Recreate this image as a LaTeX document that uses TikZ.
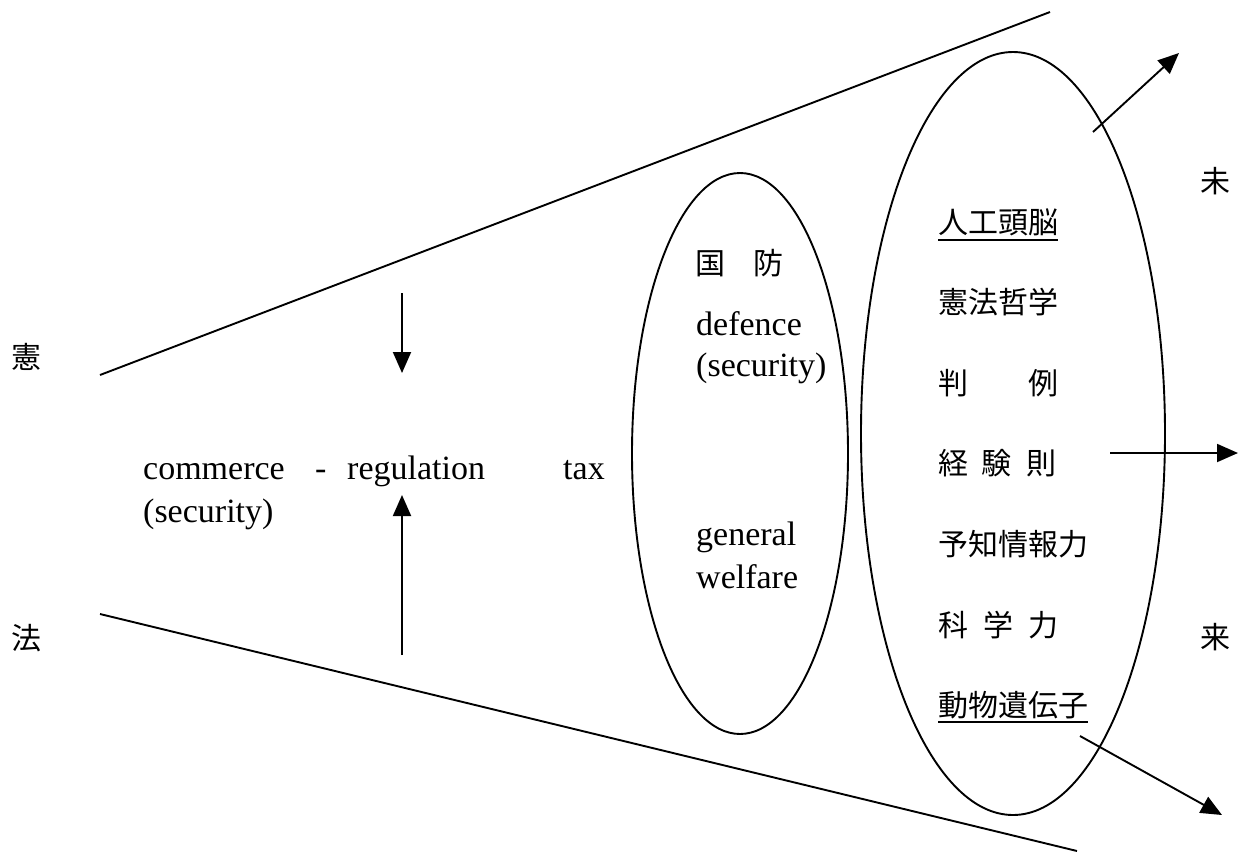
\documentclass[tikz,border=0pt]{standalone}
\usepackage{fontspec}
\setmainfont{Liberation Serif}
\newfontfamily\jpfont{Noto Sans CJK JP}
\usetikzlibrary{arrows.meta}
\begin{document}
\begin{tikzpicture}[x=1pt,y=-1pt,
  thinline/.style={line width=1.9pt},
  arr/.style={line width=1.9pt,-{Triangle[length=21pt,width=18pt]}},
  en/.style={font=\fontsize{34}{40}\selectfont, inner sep=0pt, anchor=base west},
  jpw/.style={font=\fontsize{30}{36}\selectfont\jpfont, inner sep=0pt, anchor=west},
  jpc/.style={font=\fontsize{30}{36}\selectfont\jpfont, inner sep=0pt, anchor=center},
  uline/.style={line width=2.2pt}]
\useasboundingbox (0,0) rectangle (1251,852);
\fill[white] (0,0) rectangle (1251,852);
% funnel lines
\coordinate (t1) at (100,375); \coordinate (t2) at (1050,12);
\coordinate (b1) at (100,614); \coordinate (b2) at (1077,851);
\draw[thinline] (t1) -- (t2);
\draw[thinline] (b1) -- (b2);
% ellipses
\draw[thinline] (740,453.5) ellipse [x radius=108, y radius=280.5];
\draw[thinline] (1013,433.5) ellipse [x radius=152, y radius=381.5];
% arrows
\coordinate (a1s) at (402,293); \coordinate (a1e) at (402,373);
\coordinate (a2s) at (402,655); \coordinate (a2e) at (402,495);
\coordinate (a3s) at (1093,132); \coordinate (a3e) at (1179,53);
\coordinate (a4s) at (1110,453); \coordinate (a4e) at (1238,453);
\coordinate (a5s) at (1080,736); \coordinate (a5e) at (1222,815);
\draw[arr] (a1s) -- (a1e);
\draw[arr] (a2s) -- (a2e);
\draw[arr] (a3s) -- (a3e);
\draw[arr] (a4s) -- (a4e);
\draw[arr] (a5s) -- (a5e);
% side labels
\node[jpc] (ken) at (26,357) {憲};
\node[jpc] (hou) at (26,638) {法};
\node[jpc] (mi) at (1215,181) {未};
\node[jpc] (rai) at (1215,637) {来};
% left texts
\node[en] (com) at (143,479) {commerce};
\node[en] (dash) at (315,479) {-};
\node[en] (reg) at (347,479) {regulation};
\node[en] (tax) at (563,479) {tax};
\node[en] (sec1) at (143,522) {(security)};
% small ellipse texts
\node[jpw] (kokubo) at (695,263) {国\hspace{28pt}防};
\node[en] (def) at (696,335) {defence};
\node[en] (sec2) at (696,376) {(security)};
\node[en] (gen) at (696,545) {general};
\node[en] (wel) at (696,588) {welfare};
% big ellipse texts
\node[jpw] (ai) at (938,222) {人工頭脳};
\node[jpw] (kenpo) at (938,302) {憲法哲学};
\node[jpw] (hanrei) at (938,383) {判\hspace{60pt}例};
\node[jpw] (keiken) at (938,463) {経\hspace{13pt}験\hspace{15pt}則};
\node[jpw] (yochi) at (938,544) {予知情報力};
\node[jpw] (kagaku) at (938,625) {科\hspace{15pt}学\hspace{15pt}力};
\node[jpw] (dobutsu) at (938,705) {動物遺伝子};
\draw[uline] ([yshift=-18pt]ai.west) -- ([yshift=-18pt]ai.east);
\draw[uline] ([yshift=-17pt]dobutsu.west) -- ([yshift=-17pt]dobutsu.east);
\end{tikzpicture}
\end{document}
